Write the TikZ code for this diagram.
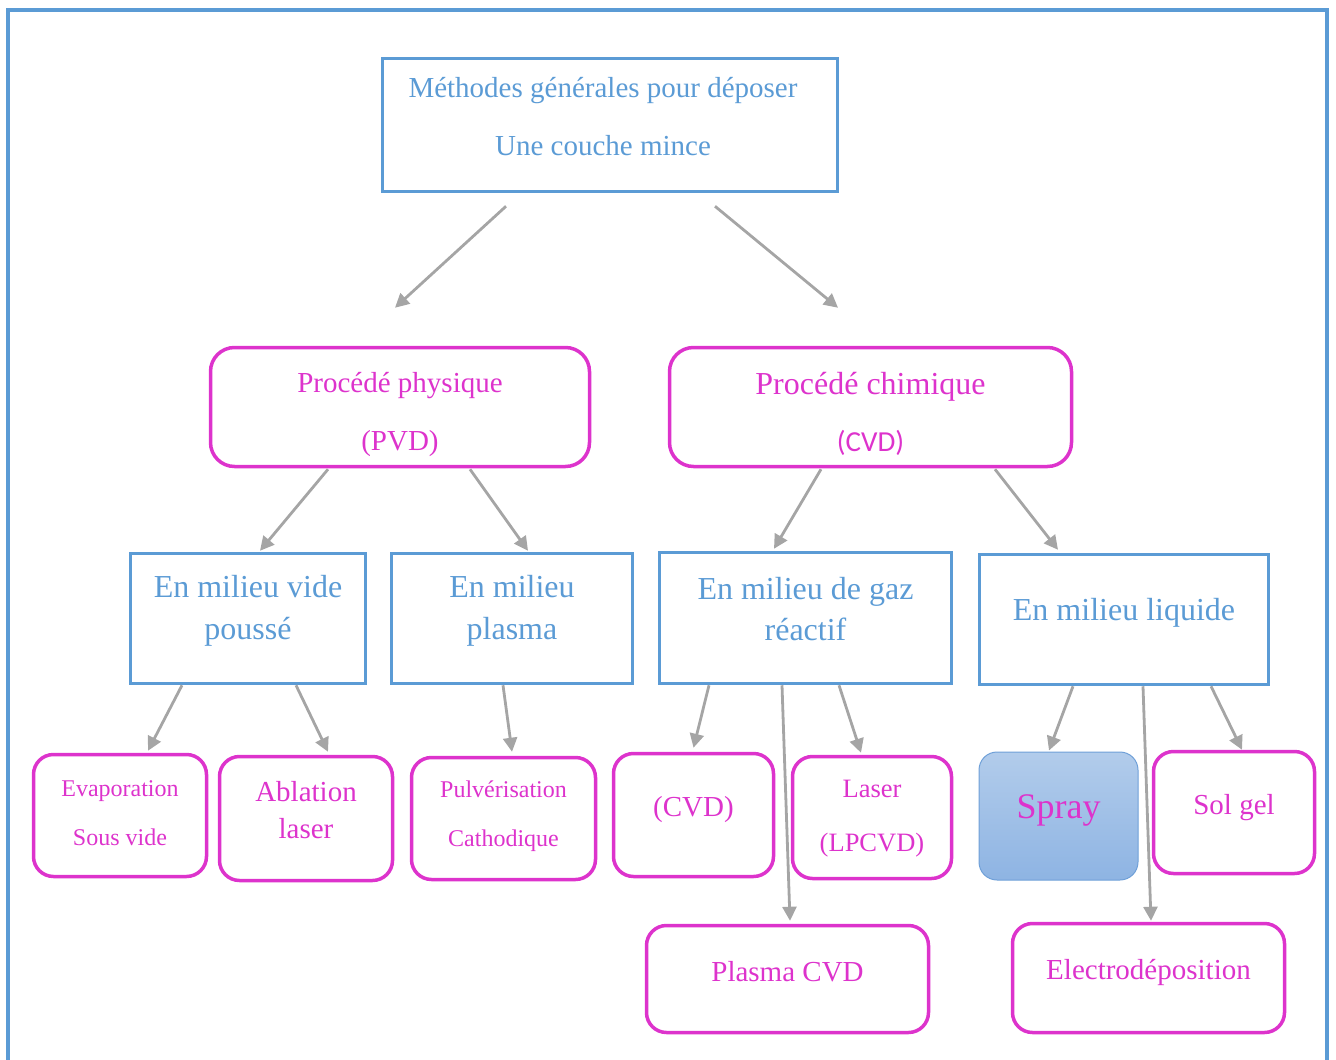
\documentclass[tikz,border=0pt]{standalone}
\usepackage{fontspec}
\setmainfont{Liberation Serif}
\newfontfamily\carlito{Carlito}
\usetikzlibrary{arrows.meta}
\definecolor{boxblue}{RGB}{91,155,213}
\definecolor{boxmag}{RGB}{221,51,204}
\definecolor{arrgray}{RGB}{165,165,165}
\definecolor{spraytop}{RGB}{178,204,235}
\definecolor{spraybot}{RGB}{142,180,227}
\definecolor{sprayedge}{RGB}{111,160,216}
\begin{document}
\begin{tikzpicture}[x=1pt,y=-1pt,
  bbox/.style={draw=boxblue, line width=3.5pt, inner sep=0pt},
  mbox/.style={draw=boxmag, line width=3.5pt, rounded corners=20pt, inner sep=0pt},
  btxt/.style={text=boxblue, align=center, inner sep=0pt},
  mtxt/.style={text=boxmag, align=center, inner sep=0pt},
  arr/.style={draw=arrgray, line width=2.8pt, -{Triangle[length=14pt,width=14pt]}}]
\useasboundingbox (0,0) rectangle (1336,1060);
\draw[boxblue, line width=4pt] (8,1075) -- (8,10) -- (1327,10) -- (1327,1075);
% boxes
\node[bbox, minimum width=455pt, minimum height=133pt] (top) at (610,125) {};
\node[mbox, rounded corners=24pt, minimum width=379pt, minimum height=119pt] (pvd) at (400,407) {};
\node[mbox, rounded corners=24pt, minimum width=402pt, minimum height=119pt] (cvd) at (870.5,407) {};
\node[bbox, minimum width=235pt, minimum height=130pt] (vide) at (248,618.5) {};
\node[bbox, minimum width=241pt, minimum height=130pt] (plasma) at (512,618.5) {};
\node[bbox, minimum width=292pt, minimum height=131pt] (gaz) at (805.5,618) {};
\node[bbox, minimum width=289pt, minimum height=130pt] (liquide) at (1124,619.5) {};
\node[mbox, minimum width=173pt, minimum height=122pt] (evap) at (120,815.5) {};
\node[mbox, minimum width=173pt, minimum height=124pt] (ablation) at (306,818.5) {};
\node[mbox, minimum width=184pt, minimum height=122pt] (pulve) at (503.5,818.5) {};
\node[mbox, minimum width=160pt, minimum height=123pt] (cvdb) at (693.5,815) {};
\node[mbox, minimum width=159pt, minimum height=122pt] (laser) at (872,817.5) {};
\node[draw=sprayedge, line width=1pt, rounded corners=18pt, top color=spraytop, bottom color=spraybot,
  inner sep=0pt, minimum width=159pt, minimum height=128pt] (spray) at (1058.5,816) {};
\node[mbox, minimum width=161pt, minimum height=122pt] (solgel) at (1234,812.5) {};
\node[mbox, minimum width=282pt, minimum height=107pt] (pcvd) at (787.5,979) {};
\node[mbox, minimum width=272pt, minimum height=109pt] (electro) at (1148.5,978) {};
% texts
\node[btxt, font=\fontsize{29}{58}\selectfont] (top-t) at (603,117) {Méthodes générales pour déposer\\Une couche mince};
\node[mtxt, font=\fontsize{29}{58}\selectfont] (pvd-t) at (400,414) {Procédé physique\\(PVD)};
\node[mtxt, font=\fontsize{32}{57}\selectfont] (cvd-t) at (870.5,414) {Procédé chimique\\{\carlito\fontsize{29}{57}\selectfont (CVD)}};
\node[btxt, font=\fontsize{32}{42}\selectfont] (vide-t) at (248,611) {En milieu vide\\poussé};
\node[btxt, font=\fontsize{32}{42}\selectfont] (plasma-t) at (512,611) {En milieu\\plasma};
\node[btxt, font=\fontsize{32}{41}\selectfont] (gaz-t) at (805.5,609) {En milieu de gaz\\réactif};
\node[btxt, font=\fontsize{32}{40}\selectfont] (liquide-t) at (1124,613) {En milieu liquide};
\node[mtxt, font=\fontsize{24}{49}\selectfont] (evap-t) at (120,813) {Evaporation\\Sous vide};
\node[mtxt, font=\fontsize{29}{37}\selectfont] (ablation-t) at (306,810.5) {Ablation\\laser};
\node[mtxt, font=\fontsize{24}{49}\selectfont] (pulve-t) at (503.5,816.5) {Pulvérisation\\Cathodique};
\node[mtxt, font=\fontsize{29}{35}\selectfont] (cvdb-t) at (693.5,810) {(CVD)};
\node[mtxt, font=\fontsize{26.5}{54}\selectfont] (laser-t) at (872,819) {Laser\\(LPCVD)};
\node[mtxt, font=\fontsize{36}{43}\selectfont] (spray-t) at (1058.5,810) {Spray};
\node[mtxt, font=\fontsize{29}{35}\selectfont] (solgel-t) at (1234,808) {Sol gel};
\node[mtxt, font=\fontsize{29}{35}\selectfont] (pcvd-t) at (787.5,972) {Plasma CVD};
\node[mtxt, font=\fontsize{29}{35}\selectfont] (electro-t) at (1148.5,972) {Electrodéposition};
% arrows
\draw[arr] ([shift={(-104,13)}]top.south) -- ([shift={(-5,-38)}]pvd.north);
\draw[arr] ([shift={(105,13)}]top.south) -- ([shift={(-32.5,-38)}]cvd.north);
\draw[arr] ([shift={(-72,1)}]pvd.south) -- ([shift={(12,-1)}]vide.north);
\draw[arr] ([shift={(70,1)}]pvd.south) -- ([shift={(16,-1)}]plasma.north);
\draw[arr] ([shift={(-49.5,1)}]cvd.south) -- ([shift={(-31.5,-2)}]gaz.north);
\draw[arr] ([shift={(124.5,1)}]cvd.south) -- ([shift={(-66,-3)}]liquide.north);
\draw[arr] ([shift={(-66,0)}]vide.south) -- ([shift={(28,-2)}]evap.north);
\draw[arr] ([shift={(48,0)}]vide.south) -- ([shift={(22,-3)}]ablation.north);
\draw[arr] ([shift={(-9,0)}]plasma.south) -- ([shift={(8.5,-4)}]pulve.north);
\draw[arr] ([shift={(-96.5,0)}]gaz.south) -- ([shift={(0,-4)}]cvdb.north);
\draw[arr] ([shift={(33.5,0)}]gaz.south) -- ([shift={(-11,-2)}]laser.north);
\draw[arr] ([shift={(-23.5,0)}]gaz.south) -- ([shift={(2.5,-3)}]pcvd.north);
\draw[arr] ([shift={(-51,0)}]liquide.south) -- ([shift={(-9.5,-1)}]spray.north);
\draw[arr] ([shift={(87,0)}]liquide.south) -- ([shift={(8,0)}]solgel.north);
\draw[arr] ([shift={(19,0)}]liquide.south) -- ([shift={(2.5,-1)}]electro.north);
\end{tikzpicture}
\end{document}
